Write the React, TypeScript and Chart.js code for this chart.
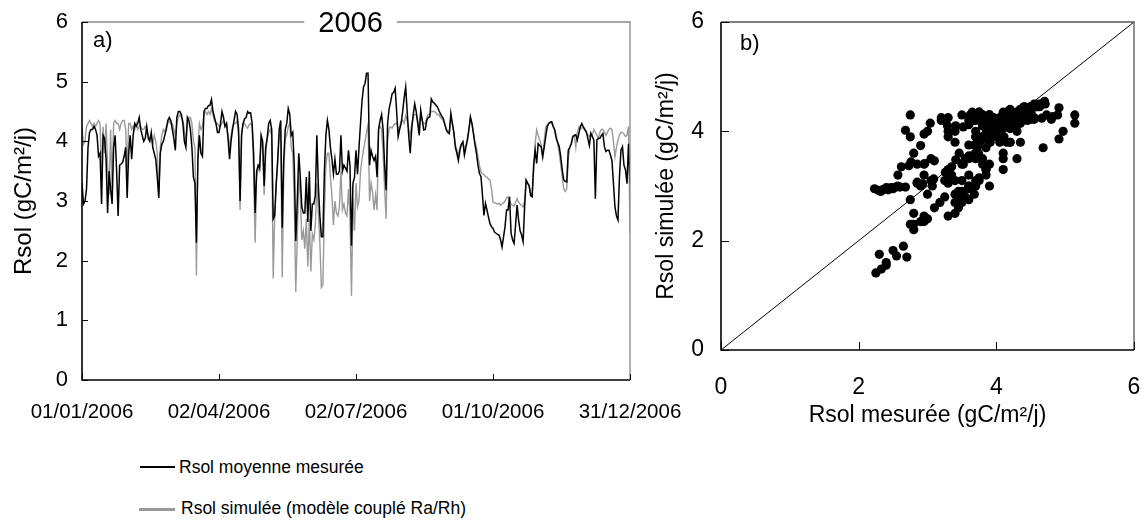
import React, { useEffect, useRef } from 'react';
import { Chart, registerables } from 'chart.js';

Chart.register(...registerables);

const FONT = '"Liberation Sans", Arial, Helvetica, sans-serif';
Chart.defaults.font.family = FONT;
Chart.defaults.color = '#000';

// Daily soil respiration, 2006 (day index 0 = 01/01/2006)
const measured: number[] = [
  3.3, 2.95, 3.0, 3.2, 3.9, 4.15, 4.2, 4.2, 4.25, 4.2,
  4.1, 3.75, 3.8, 2.95, 4.1, 4.05, 3.7, 2.8, 3.5, 3.2,
  2.95, 3.9, 4.1, 3.5, 2.75, 3.6, 3.62, 3.65, 3.75, 3.9,
  3.05, 3.8, 4.1, 3.7, 4.1, 4.3, 4.25, 4.3, 4.4, 4.2,
  4.1, 4.0, 4.05, 4.25, 4.05, 4.0, 4.15, 3.9, 3.8, 3.7,
  3.4, 3.05, 3.8, 3.95, 4.0, 4.1, 4.2, 4.35, 4.4, 4.35,
  4.2, 4.05, 3.85, 4.4, 4.5, 4.5, 4.45, 4.3, 4.0, 3.9,
  4.4, 4.35, 4.2, 3.9, 3.4, 3.3, 2.3, 3.7, 4.1, 3.8,
  3.75, 4.5, 4.55, 4.55, 4.6, 4.6, 4.7, 4.5, 4.4, 4.3,
  4.15, 4.15, 4.3, 4.5, 4.4, 4.25, 4.3, 4.05, 3.7, 4.0,
  4.2, 4.35, 4.5, 4.45, 4.2, 3.0, 4.1, 4.3, 4.38, 4.4,
  4.5, 4.47, 4.48, 4.3, 3.8, 2.8, 3.5, 3.6, 3.55, 4.1,
  4.0, 3.25, 3.9, 4.05, 4.3, 4.35, 4.2, 2.7, 2.75, 3.3,
  3.7, 4.2, 4.35, 2.55, 3.7, 4.2, 4.3, 4.55, 4.45, 4.1,
  4.15, 3.6, 2.33, 3.0, 3.8, 3.4, 2.9, 2.8, 2.8, 3.4,
  2.65, 3.5, 2.5, 2.95, 2.95, 3.1, 4.1, 3.25, 2.75, 2.4,
  2.4, 3.5, 4.1, 4.35, 4.2, 3.9, 3.7, 3.45, 3.7, 3.45,
  3.45, 3.5, 4.1, 3.5, 3.6, 3.55, 3.5, 3.85, 3.6, 2.25,
  3.3, 3.4, 3.85, 3.45, 3.9, 4.3, 4.68, 4.91, 4.97, 5.14,
  5.14, 3.6, 3.85, 3.75, 3.68, 3.75, 3.4, 4.2, 4.35, 4.45,
  4.2, 3.6, 3.18, 4.3, 4.55, 4.66, 4.8, 4.82, 4.89, 4.5,
  4.08, 4.2, 4.3, 4.5, 4.73, 4.91, 4.5, 4.1, 3.8, 4.2,
  4.45, 4.63, 4.5, 4.3, 4.1, 4.52, 4.35, 4.19, 4.2, 4.35,
  4.4, 4.41, 4.71, 4.66, 4.64, 4.61, 4.58, 4.52, 4.47, 4.42,
  4.38, 4.28, 4.19, 4.15, 4.13, 4.47, 4.3, 4.15, 3.9, 3.8,
  3.68, 3.85, 3.95, 3.99, 3.77, 3.9, 4.02, 4.2, 4.41, 4.3,
  4.13, 3.95, 3.8, 3.6, 3.46, 3.41, 3.1, 2.76, 2.96, 2.85,
  2.73, 2.62, 2.57, 2.54, 2.48, 2.46, 2.44, 2.43, 2.35, 2.23,
  2.4, 2.57, 2.85, 2.85, 3.07, 2.46, 2.35, 2.29, 2.6, 2.93,
  2.68, 2.5, 2.43, 2.32, 2.9, 3.35, 3.3, 3.26, 3.09, 3.07,
  3.6, 3.85, 3.63, 3.96, 3.93, 3.91, 3.74, 3.9, 4.08, 4.24,
  4.3, 4.32, 4.33, 4.25, 4.19, 4.05, 3.98, 3.91, 3.74, 3.52,
  3.35, 3.33, 3.32, 3.85, 3.9, 3.96, 4.08, 4.1, 4.11, 4.02,
  4.13, 4.25, 4.3, 4.24, 4.2, 4.16, 4.05, 3.93, 4.13, 4.08,
  4.02, 3.04, 4.02, 4.05, 4.05, 4.1, 4.13, 3.91, 3.83, 3.85,
  3.85, 3.77, 3.68, 3.3, 2.9, 2.75, 2.68, 3.41, 3.85, 3.91,
  3.6, 3.52, 3.29, 3.96, 3.3,
];

const simulated: number[] = [
  4.25, 3.95, 4.0, 4.25, 4.3, 4.35, 4.3, 4.25, 4.3, 4.25,
  4.3, 4.35, 4.3, 3.4, 4.25, 3.8, 4.3, 3.6, 3.1, 4.2,
  3.2, 4.3, 4.35, 4.3, 4.3, 4.2, 4.3, 4.35, 4.35, 4.2,
  3.5, 4.3, 4.3, 4.2, 4.25, 4.2, 4.3, 4.2, 4.25, 4.25,
  4.2, 4.2, 4.25, 4.2, 4.1, 4.05, 4.1, 3.95, 4.1, 4.0,
  3.8, 3.1, 3.9, 4.1, 4.2, 4.15, 4.25, 4.3, 4.35, 4.3,
  4.3, 4.2, 4.1, 4.3, 4.4, 4.45, 4.4, 4.35, 4.2, 4.0,
  4.3, 4.4, 4.4, 4.3, 4.0, 3.9, 1.75, 3.9, 4.3, 4.2,
  4.25, 4.45, 4.5, 4.45, 4.5, 4.45, 4.55, 4.45, 4.35, 4.3,
  4.3, 4.25, 4.25, 4.3, 4.35, 4.25, 4.3, 4.1, 3.9, 4.1,
  4.25, 4.3, 4.3, 4.35, 4.1, 2.85, 4.15, 4.3, 4.3, 4.25,
  4.22, 4.28, 4.3, 4.25, 3.5, 2.3, 3.4, 3.55, 3.5, 4.05,
  3.9, 3.1, 3.8, 4.05, 4.15, 4.2, 4.1, 1.7, 2.75, 3.25,
  3.6, 4.1, 4.15, 1.72, 3.5, 4.05, 4.1, 4.25, 4.3, 3.9,
  3.8, 3.0, 1.48, 2.4, 3.4, 3.1, 2.35, 2.5, 2.2, 2.7,
  1.9, 2.7, 1.82, 2.45, 2.35, 2.6, 3.3, 2.8, 2.3, 1.55,
  1.6, 2.8, 3.6, 3.8, 3.8, 3.4, 3.1, 2.6, 3.0, 2.8,
  2.75, 2.9, 3.5, 2.85, 2.95, 2.8, 2.75, 3.2, 2.75, 1.41,
  3.05, 2.5, 3.3, 2.9, 3.0, 3.5, 3.7, 3.86, 4.0, 4.15,
  4.3, 3.0, 3.3, 3.15, 2.85, 3.1, 2.85, 4.2, 4.25, 4.2,
  3.8, 3.2, 2.7, 4.0, 4.22, 4.24, 4.22, 4.27, 4.3, 4.3,
  4.2, 4.25, 4.33, 4.35, 4.3, 4.43, 4.35, 4.2, 4.1, 4.3,
  4.4, 4.45, 4.45, 4.35, 4.2, 4.45, 4.35, 4.3, 4.3, 4.4,
  4.45, 4.45, 4.5, 4.5, 4.5, 4.48, 4.45, 4.45, 4.4, 4.38,
  4.35, 4.3, 4.2, 4.18, 4.15, 4.4, 4.3, 4.15, 3.95, 3.85,
  3.75, 3.9, 3.95, 4.0, 3.85, 3.95, 4.05, 4.2, 4.38, 4.3,
  4.15, 4.0, 3.9, 3.75, 3.6, 3.48, 3.46, 3.44, 3.41, 3.4,
  3.37, 3.35, 3.2, 2.98, 2.97, 2.96, 2.95, 2.96, 2.93, 2.95,
  2.97, 3.0, 3.05, 3.07, 3.0, 2.95, 2.93, 2.92, 2.98, 3.04,
  2.98, 2.95, 2.93, 2.9, 3.0, 3.35, 3.3, 3.25, 3.13, 3.1,
  3.5, 3.96, 4.19, 4.1, 4.02, 3.95, 3.74, 4.0, 4.24, 4.28,
  4.3, 4.32, 4.3, 4.25, 4.2, 4.1, 3.95, 3.8, 3.6, 3.4,
  3.2, 3.16, 3.2, 3.7, 3.9, 3.96, 4.08, 4.1, 3.9, 4.15,
  4.24, 4.2, 4.23, 4.22, 4.18, 4.15, 4.1, 4.08, 4.15, 4.1,
  4.2, 4.15, 4.1, 4.05, 4.15, 4.2, 4.2, 4.15, 4.1, 4.15,
  4.2, 4.22, 4.2, 4.0, 3.74, 3.9, 4.02, 4.1, 4.15, 4.15,
  4.12, 4.08, 4.1, 4.25, 2.45,
];

const dateTickDays: number[] = [0, 91, 182, 273, 364];
const dateTickLabels: string[] = ['01/01/2006', '02/04/2006', '02/07/2006', '01/10/2006', '31/12/2006'];
const oneToOne: number[] = [0, 6];

const seriesNames = ['Rsol moyenne mesurée', 'Rsol simulée (modèle couplé Ra/Rh)'];

const noScalePadding = (s: any) => {
  s.paddingLeft = 0;
  s.paddingRight = 0;
  s.paddingTop = 0;
  s.paddingBottom = 0;
};

function makeFramePlugin(cfg: {
  id: string;
  frameColor: string;
  panelLabel: string;
  panelLabelPos: [number, number];
  title?: string;
  titleFrac?: number;
  tickLen: number;
}) {
  return {
    id: cfg.id,
    afterDatasetsDraw(chart: any) {
      const { ctx, chartArea, scales } = chart;
      const { left, right, top, bottom } = chartArea;
      ctx.save();
      // top & right frame
      ctx.strokeStyle = cfg.frameColor;
      ctx.lineWidth = 1.3;
      ctx.beginPath();
      ctx.moveTo(left, top);
      ctx.lineTo(right, top);
      ctx.lineTo(right, bottom);
      ctx.stroke();
      // inward ticks
      ctx.strokeStyle = '#000';
      ctx.lineWidth = 1;
      ctx.beginPath();
      scales.x.ticks.forEach((t: any) => {
        const px = Math.round(scales.x.getPixelForValue(t.value)) + 0.5;
        ctx.moveTo(px, bottom);
        ctx.lineTo(px, bottom - cfg.tickLen);
      });
      scales.y.ticks.forEach((t: any) => {
        const py = Math.round(scales.y.getPixelForValue(t.value)) + 0.5;
        ctx.moveTo(left, py);
        ctx.lineTo(left + cfg.tickLen, py);
      });
      ctx.stroke();
      // left & bottom axes
      ctx.strokeStyle = '#000';
      ctx.lineWidth = 1.6;
      ctx.beginPath();
      ctx.moveTo(left, top);
      ctx.lineTo(left, bottom);
      ctx.lineTo(right, bottom);
      ctx.stroke();
      // title breaking the top border
      if (cfg.title) {
        ctx.font = `29px ${FONT}`;
        const tw = ctx.measureText(cfg.title).width;
        const cx = left + (right - left) * (cfg.titleFrac || 0.5);
        ctx.fillStyle = '#fff';
        ctx.fillRect(cx - tw / 2 - 14, top - 16, tw + 28, 30);
        ctx.fillStyle = '#000';
        ctx.textAlign = 'center';
        ctx.textBaseline = 'middle';
        ctx.fillText(cfg.title, cx, top + 2);
      }
      // panel label
      ctx.font = `22px ${FONT}`;
      ctx.fillStyle = '#000';
      ctx.textAlign = 'left';
      ctx.textBaseline = 'middle';
      ctx.fillText(cfg.panelLabel, left + cfg.panelLabelPos[0], top + cfg.panelLabelPos[1]);
      ctx.restore();
    },
  };
}

export default function App() {
  const refA = useRef<HTMLCanvasElement>(null);
  const refB = useRef<HTMLCanvasElement>(null);

  useEffect(() => {
    document.body.style.margin = '0';
    const chartA = new Chart(refA.current as HTMLCanvasElement, {
      type: 'line',
      data: {
        datasets: [
          {
            label: seriesNames[0],
            data: measured.map((v, i) => ({ x: i, y: v })),
            borderColor: '#000',
            borderWidth: 1.5,
            pointRadius: 0,
            tension: 0,
          },
          {
            label: seriesNames[1],
            data: simulated.map((v, i) => ({ x: i, y: v })),
            borderColor: '#9a9a9a',
            borderWidth: 1.4,
            pointRadius: 0,
            tension: 0,
          },
        ],
      },
      options: {
        animation: false,
        responsive: false,
        layout: { padding: { top: 22, right: 60, left: 0, bottom: 0 } },
        plugins: { legend: { display: false }, tooltip: { enabled: false } },
        scales: {
          x: {
            type: 'linear',
            min: 0,
            max: 364,
            afterBuildTicks: (s: any) => {
              s.ticks = dateTickDays.map((v) => ({ value: v }));
            },
            ticks: {
              callback: (v: any) => dateTickLabels[dateTickDays.indexOf(Number(v))],
              font: { size: 20.5 },
              color: '#000',
              padding: 20,
              maxRotation: 0,
              autoSkip: false,
            },
            grid: { display: false, drawTicks: false },
            border: { display: false },
            afterFit: (s: any) => {
              s.height = 60;
              noScalePadding(s);
            },
          },
          y: {
            min: 0,
            max: 6,
            ticks: { stepSize: 1, font: { size: 22 }, color: '#000', padding: 14 },
            grid: { display: false, drawTicks: false },
            border: { display: false },
            title: {
              display: true,
              text: 'Rsol (gC/m²/j)',
              font: { size: 24 },
              color: '#000',
              padding: { top: 10, bottom: 0 },
            },
            afterFit: (s: any) => {
              s.width = 82;
              noScalePadding(s);
            },
          },
        },
      } as any,
      plugins: [
        makeFramePlugin({
          id: 'frameA',
          frameColor: '#8a8a8a',
          panelLabel: 'a)',
          panelLabelPos: [11, 19],
          title: '2006',
          titleFrac: 0.49,
          tickLen: 6,
        }),
      ],
    });

    const chartB = new Chart(refB.current as HTMLCanvasElement, {
      type: 'scatter',
      data: {
        datasets: [
          {
            label: 'points',
            data: measured.map((m, i) => ({ x: m, y: simulated[i] })),
            pointRadius: 4.6,
            pointBackgroundColor: '#000',
            pointBorderWidth: 0,
            backgroundColor: '#000',
          },
          {
            label: '1:1',
            data: oneToOne.map((v) => ({ x: v, y: v })),
            showLine: true,
            borderColor: '#000',
            borderWidth: 1,
            pointRadius: 0,
          },
        ],
      },
      options: {
        animation: false,
        responsive: false,
        layout: { padding: { top: 22, right: 10, left: 0, bottom: 0 } },
        plugins: { legend: { display: false }, tooltip: { enabled: false } },
        scales: {
          x: {
            type: 'linear',
            min: 0,
            max: 6,
            ticks: { stepSize: 2, font: { size: 23 }, color: '#000', padding: 24 },
            grid: { display: false, drawTicks: false },
            border: { display: false },
            title: {
              display: true,
              text: 'Rsol mesurée (gC/m²/j)',
              font: { size: 23 },
              color: '#000',
              padding: { top: 0, bottom: 11 },
            },
            afterFit: (s: any) => {
              s.height = 90;
              noScalePadding(s);
            },
          },
          y: {
            min: 0,
            max: 6,
            ticks: { stepSize: 2, font: { size: 23 }, color: '#000', padding: 17 },
            grid: { display: false, drawTicks: false },
            border: { display: false },
            title: {
              display: true,
              text: 'Rsol simulée (gC/m²/j)',
              font: { size: 23 },
              color: '#000',
              padding: { top: 13, bottom: 0 },
            },
            afterFit: (s: any) => {
              s.width = 81;
              noScalePadding(s);
            },
          },
        },
      } as any,
      plugins: [
        makeFramePlugin({
          id: 'frameB',
          frameColor: '#555',
          panelLabel: 'b)',
          panelLabelPos: [19, 22],
          tickLen: 8,
        }),
      ],
    });

    return () => {
      chartA.destroy();
      chartB.destroy();
    };
  }, []);

  const legendText: React.CSSProperties = {
    position: 'absolute',
    left: 179,
    fontFamily: FONT,
    fontSize: 17.5,
    lineHeight: '22px',
    color: '#000',
    whiteSpace: 'nowrap',
  };

  return (
    <div style={{ position: 'absolute', left: 0, top: 0, width: 1144, height: 524, background: '#fff' }}>
      <canvas ref={refA} width={690} height={440} style={{ position: 'absolute', left: 0, top: 0 }} />
      <canvas ref={refB} width={504} height={440} style={{ position: 'absolute', left: 640, top: 0 }} />
      <div style={{ position: 'absolute', left: 140, top: 466, width: 35, height: 1.5, background: '#000' }} />
      <div style={{ ...legendText, top: 456 }}>{seriesNames[0]}</div>
      <div style={{ position: 'absolute', left: 139, top: 508, width: 36, height: 3, background: '#999' }} />
      <div style={{ ...legendText, left: 181, top: 497 }}>{seriesNames[1]}</div>
    </div>
  );
}
